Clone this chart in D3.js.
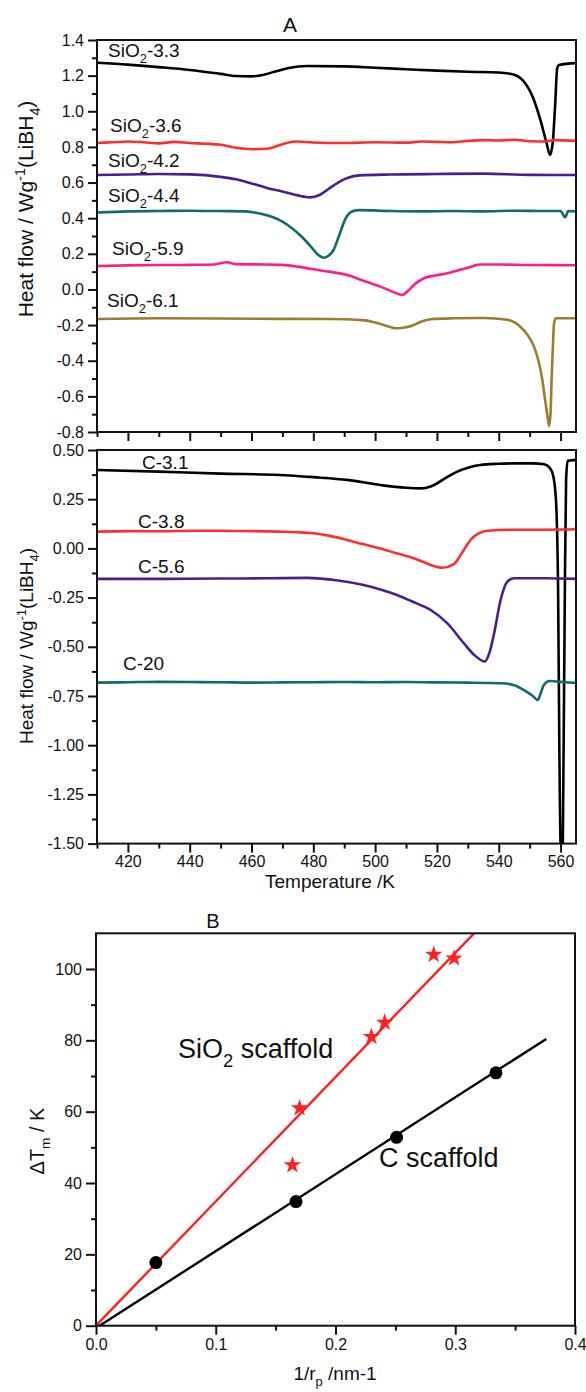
<!DOCTYPE html>
<html>
<head>
<meta charset="utf-8">
<script src="https://cdn.jsdelivr.net/npm/d3@7"></script>
<style>
  body { margin: 0; background: #fff; }
  text { font-family: Arial, "Liberation Sans", sans-serif; fill: #111; }
</style>
</head>
<body>
<div id="chart"></div>
<script>
// ---- panel A (top): SiO2 scaffolds, [T (K), heat flow] ----
const sio2_33 = [[410,1.272],[420,1.262],[430,1.248],[440,1.232],[450,1.21],[455,1.198],[460,1.196],[464,1.205],[468,1.225],[472,1.243],[478,1.254],[490,1.252],[500,1.244],[510,1.236],[520,1.228],[530,1.222],[540,1.218],[545,1.205],[548,1.17],[551,1.08],[553.5,0.95],[555.5,0.82],[556.6,0.755],[557.5,0.83],[558.3,1.05],[558.9,1.24],[559.5,1.26],[565,1.27]];
const sio2_36 = [[410,0.822],[415,0.826],[420,0.83],[425,0.826],[430,0.82],[435,0.828],[440,0.822],[445,0.818],[450,0.812],[455,0.795],[460,0.787],[465,0.79],[470,0.815],[474,0.83],[480,0.825],[490,0.822],[500,0.826],[510,0.824],[515,0.83],[520,0.828],[525,0.826],[530,0.834],[535,0.838],[540,0.836],[545,0.84],[550,0.832],[555,0.83],[558,0.838],[565,0.834]];
const sio2_42 = [[410,0.642],[420,0.645],[430,0.648],[440,0.646],[450,0.632],[455,0.618],[460,0.595],[465,0.57],[470,0.55],[475,0.528],[479,0.517],[482,0.53],[485,0.565],[488,0.6],[491,0.625],[495,0.64],[505,0.645],[520,0.648],[535,0.65],[550,0.643],[565,0.642]];
const sio2_44 = [[410,0.432],[420,0.438],[430,0.44],[440,0.442],[450,0.44],[458,0.438],[463,0.425],[467,0.405],[470,0.38],[473,0.345],[476,0.3],[479,0.245],[481.5,0.195],[483.4,0.178],[485,0.19],[486.5,0.22],[488.5,0.31],[490.5,0.4],[492.5,0.438],[495,0.445],[505,0.44],[515,0.438],[525,0.44],[535,0.438],[545,0.442],[555,0.44],[560,0.44],[561.5,0.405],[562.5,0.44],[565,0.438]];
const sio2_59 = [[410,0.132],[420,0.135],[430,0.137],[440,0.138],[448,0.14],[452,0.153],[455,0.142],[465,0.14],[470,0.138],[475,0.128],[480,0.113],[485,0.1],[491,0.081],[496,0.05],[501.7,0.016],[506,-0.015],[508.8,-0.031],[510.5,-0.01],[512.5,0.025],[515.8,0.063],[520,0.08],[523.4,0.091],[527,0.108],[530,0.122],[534,0.14],[540,0.14],[550,0.137],[565,0.136]];
const sio2_61 = [[410,-0.166],[430,-0.162],[450,-0.163],[470,-0.165],[485,-0.166],[496,-0.172],[502,-0.195],[507.1,-0.218],[510,-0.212],[512.5,-0.199],[515,-0.18],[518,-0.167],[525,-0.162],[535,-0.16],[542.8,-0.17],[547,-0.209],[549.5,-0.26],[551.4,-0.321],[553,-0.41],[554.1,-0.508],[555,-0.62],[555.8,-0.714],[556.3,-0.766],[556.8,-0.68],[557.1,-0.508],[557.5,-0.33],[557.9,-0.19],[558.5,-0.162],[565,-0.162]];

// ---- panel A (bottom): carbon scaffolds ----
const c_31 = [[410,0.398],[430,0.39],[450,0.38],[469,0.373],[480,0.362],[491,0.348],[501.7,0.322],[510,0.308],[514.7,0.305],[518,0.315],[520.1,0.331],[523,0.36],[526.6,0.39],[530,0.41],[534,0.424],[540,0.43],[545,0.432],[551,0.432],[554.7,0.428],[556.5,0.41],[557.6,0.37],[558.5,0.25],[559.2,-0.2],[559.6,-1.0],[560.2,-1.6],[560.6,-1.6],[561.0,-1.0],[561.4,-0.2],[561.8,0.35],[562.3,0.445],[565,0.45]];
const c_38 = [[410,0.085],[420,0.088],[430,0.087],[440,0.09],[450,0.09],[460,0.088],[469,0.085],[475,0.082],[480,0.077],[485,0.065],[491,0.043],[496,0.022],[501.7,0.0],[507,-0.025],[512.5,-0.05],[515,-0.065],[518,-0.084],[521.7,-0.098],[525.5,-0.08],[527,-0.05],[528.7,-0.008],[530.5,0.035],[532,0.06],[534,0.08],[536.3,0.09],[545,0.095],[555,0.095],[565,0.097]];
const c_56 = [[410,-0.155],[430,-0.155],[450,-0.153],[465,-0.152],[478,-0.15],[488,-0.163],[496.3,-0.186],[502,-0.21],[507.1,-0.237],[512,-0.27],[518,-0.313],[523.4,-0.381],[528.7,-0.482],[532,-0.54],[535.5,-0.575],[537,-0.53],[538.5,-0.432],[540.6,-0.262],[542.8,-0.169],[545,-0.152],[555,-0.152],[565,-0.155]];
const c_20 = [[410,-0.682],[420,-0.68],[430,-0.678],[440,-0.679],[450,-0.68],[460,-0.682],[470,-0.681],[480,-0.68],[490,-0.679],[500,-0.68],[510,-0.679],[520,-0.681],[530,-0.682],[540.6,-0.685],[545,-0.695],[549,-0.728],[551,-0.75],[552.6,-0.77],[553.5,-0.74],[554.6,-0.694],[556.5,-0.674],[560,-0.678],[565,-0.684]];

const topNames = ["SiO2-3.3", "SiO2-3.6", "SiO2-4.2", "SiO2-4.4", "SiO2-5.9", "SiO2-6.1"];
const botNames = ["C-3.1", "C-3.8", "C-5.6", "C-20"];

// ---- panel B: 1/rp vs delta Tm ----
const sio2Rp = [0.164, 0.17, 0.23, 0.241, 0.282, 0.299];
const sio2Dt = [45, 61, 81, 85, 104, 103];
const cRp = [0.05, 0.167, 0.251, 0.334];
const cDt = [17.7, 34.8, 52.8, 70.9];
const sio2Fit = [[0, 0], [0.3157, 110]];
const cFit = [[0.003, 0], [0.376, 80.4]];

const topTicks = [-0.8, -0.6, -0.4, -0.2, 0.0, 0.2, 0.4, 0.6, 0.8, 1.0, 1.2, 1.4];
const botTicks = [-1.5, -1.25, -1.0, -0.75, -0.5, -0.25, 0.0, 0.25, 0.5];
const tempTicks = [420, 440, 460, 480, 500, 520, 540, 560];
const bYTicks = [0, 20, 40, 60, 80, 100];
const bXTicks = [0, 0.1, 0.2, 0.3, 0.4];

const W = 586, H = 1392;
const svg = d3.select("#chart").append("svg").attr("width", W).attr("height", H);
svg.append("rect").attr("width", W).attr("height", H).attr("fill", "#fff");

const x = d3.scaleLinear().domain([410, 565]).range([97, 576]);
const yTop = d3.scaleLinear().domain([-0.8, 1.4]).range([432, 40]);
const yBot = d3.scaleLinear().domain([-1.5, 0.5]).range([843.6, 450]);
const xB = d3.scaleLinear().domain([0, 0.4]).range([96, 575]);
const yB = d3.scaleLinear().domain([0, 110]).range([1325.7, 933.3]);

// text with sub/superscripts: parts = [[str, "sub"|"sup"|null], ...]
const richText = (g, px, py, parts, size, anchor, rot) => {
    let t = g.append("text")
        .attr("font-size", size)
        .attr("text-anchor", anchor || "start")
        .attr("transform", "translate(" + px + "," + py + ")" + (rot ? " rotate(" + rot + ")" : ""));
    let shift = 0;
    parts.forEach(p => {
        let target = p[1] == "sub" ? size * 0.32 : p[1] == "sup" ? -size * 0.38 : 0;
        t.append("tspan")
            .attr("dy", target - shift)
            .attr("font-size", p[1] ? size * 0.68 : size)
            .text(p[0]);
        shift = target;
    });
    return t;
};

const styleAxis = g => {
    g.select(".domain").remove();
    g.selectAll(".tick line").attr("stroke", "#111").attr("stroke-width", 2);
    g.selectAll(".tick text").attr("font-size", 16).attr("fill", "#111")
        .attr("font-family", "Arial, 'Liberation Sans', sans-serif");
};

const drawPanel = (yS, ticks, minor, fmt, series, colors, names, labelPos, withXLabels) => {
    let [y0, y1] = yS.range();
    let g = svg.append("g");
    let cid = "clip" + Math.round(y1);
    svg.append("defs").append("clipPath").attr("id", cid)
        .append("rect").attr("x", 97).attr("y", y1).attr("width", 479).attr("height", y0 - y1);

    g.append("g").attr("transform", "translate(97,0)")
        .call(d3.axisLeft(yS).tickValues(minor).tickSize(5).tickFormat(""))
        .call(styleAxis);
    g.append("g").attr("transform", "translate(97,0)")
        .call(d3.axisLeft(yS).tickValues(ticks).tickSize(9).tickPadding(4).tickFormat(fmt))
        .call(styleAxis);
    g.append("g").attr("transform", "translate(0," + y0 + ")")
        .call(d3.axisBottom(x).tickValues(d3.range(410, 566, 20)).tickSize(5).tickFormat(""))
        .call(styleAxis);
    g.append("g").attr("transform", "translate(0," + y0 + ")")
        .call(d3.axisBottom(x).tickValues(tempTicks).tickSize(9).tickPadding(3)
            .tickFormat(withXLabels ? (d => d) : ""))
        .call(styleAxis);

    let line = d3.line().x(d => x(d[0])).y(d => yS(d[1])).curve(d3.curveMonotoneX);
    g.append("g").attr("clip-path", "url(#" + cid + ")")
        .selectAll("path")
        .data(series)
        .enter()
        .append("path")
        .attr("d", line)
        .attr("fill", "none")
        .attr("stroke", (d, i) => colors[i])
        .attr("stroke-width", 2.6)
        .attr("stroke-linejoin", "round");

    g.append("rect")
        .attr("x", 97).attr("y", y1).attr("width", 479).attr("height", y0 - y1)
        .attr("fill", "none").attr("stroke", "#111").attr("stroke-width", 2);

    names.forEach((n, i) => {
        let parts = n.startsWith("SiO2") ? [["SiO", null], ["2", "sub"], [n.slice(4), null]] : [[n, null]];
        richText(g, labelPos[i][0], labelPos[i][1], parts, 19);
    });
};

drawPanel(yTop, topTicks, d3.range(-0.7, 1.4, 0.2), d => d.toFixed(1),
    [sio2_33, sio2_36, sio2_42, sio2_44, sio2_59, sio2_61],
    ["#000000", "#ff2d2d", "#4a1f8c", "#0f6b6d", "#ff1e88", "#9e7b2e"],
    topNames, [[108, 57], [110, 132], [108, 167], [108, 202], [112, 255], [107, 307]], false);

drawPanel(yBot, botTicks, d3.range(-1.375, 0.5, 0.25), d => d.toFixed(2),
    [c_31, c_38, c_56, c_20],
    ["#000000", "#ff2d2d", "#4a1f8c", "#0f6b6d"],
    botNames, [[142, 469], [138, 528], [138, 573], [123, 670]], true);

// titles of panel A
svg.append("text").attr("x", 290).attr("y", 32).attr("text-anchor", "middle").attr("font-size", 21).text("A");
richText(svg, 33, 209, [["Heat flow / Wg", null], ["-1", "sup"], ["(LiBH", null], ["4", "sub"], [")", null]], 21, "middle", -90);
richText(svg, 33, 646, [["Heat flow / Wg", null], ["-1", "sup"], ["(LiBH", null], ["4", "sub"], [")", null]], 19, "middle", -90);
svg.append("text").attr("x", 330).attr("y", 888).attr("text-anchor", "middle").attr("font-size", 19).text("Temperature /K");

// ---- panel B ----
const gB = svg.append("g");
gB.append("g").attr("transform", "translate(96,0)")
    .call(d3.axisLeft(yB).tickValues([10, 30, 50, 70, 90]).tickSize(5).tickFormat(""))
    .call(styleAxis);
gB.append("g").attr("transform", "translate(96,0)")
    .call(d3.axisLeft(yB).tickValues(bYTicks).tickSize(10).tickPadding(4).tickFormat(d => d))
    .call(styleAxis);
gB.append("g").attr("transform", "translate(0,1325.7)")
    .call(d3.axisBottom(xB).tickValues([0.05, 0.15, 0.25, 0.35]).tickSize(5).tickFormat(""))
    .call(styleAxis);
gB.append("g").attr("transform", "translate(0,1325.7)")
    .call(d3.axisBottom(xB).tickValues(bXTicks).tickSize(9).tickPadding(4).tickFormat(d => d.toFixed(1)))
    .call(styleAxis);

const fitLine = d3.line().x(d => xB(d[0])).y(d => yB(d[1]));
gB.append("path").attr("d", fitLine(cFit)).attr("stroke", "#000").attr("stroke-width", 2.4).attr("fill", "none");
gB.append("path").attr("d", fitLine(sio2Fit)).attr("stroke", "#ff2020").attr("stroke-width", 2.4).attr("fill", "none");

gB.append("g").selectAll("circle")
    .data(cRp)
    .enter()
    .append("circle")
    .attr("cx", d => xB(d))
    .attr("cy", (d, i) => yB(cDt[i]))
    .attr("r", 6.5)
    .attr("fill", "#000");

const star = d3.symbol().type(d3.symbolStar).size(95);
gB.append("g").selectAll("path")
    .data(sio2Rp)
    .enter()
    .append("path")
    .attr("d", star)
    .attr("transform", (d, i) => "translate(" + xB(d) + "," + yB(sio2Dt[i]) + ")")
    .attr("fill", "#ff2020");

gB.append("rect")
    .attr("x", 96).attr("y", 933.3).attr("width", 479).attr("height", 392.4)
    .attr("fill", "none").attr("stroke", "#111").attr("stroke-width", 2);

svg.append("text").attr("x", 213).attr("y", 928).attr("text-anchor", "middle").attr("font-size", 20).text("B");
richText(svg, 178, 1058, [["SiO", null], ["2", "sub"], [" scaffold", null]], 27);
svg.append("text").attr("x", 379).attr("y", 1167).attr("font-size", 27).text("C scaffold");
richText(svg, 44, 1141, [["\u0394T", null], ["m", "sub"], [" / K", null]], 20, "middle", -90);
richText(svg, 335, 1380, [["1/r", null], ["p", "sub"], [" /nm-1", null]], 19, "middle");
</script>
</body>
</html>
